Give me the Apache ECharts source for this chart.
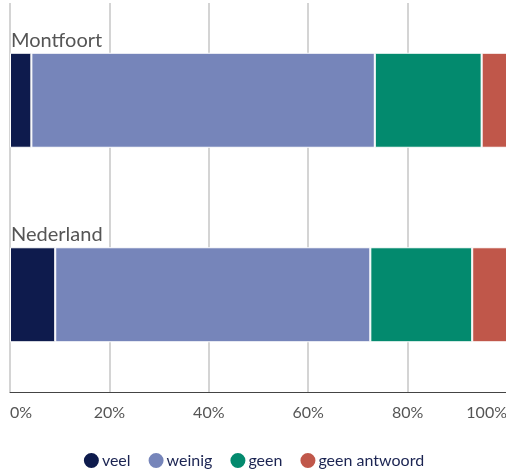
<!DOCTYPE html>
<html><head><meta charset="utf-8">
<script src="https://cdn.jsdelivr.net/npm/echarts@6/dist/echarts.min.js"></script>
<style>html,body{margin:0;padding:0;background:#fff}#c{width:506px;height:474px}</style>
</head><body><div id="c"></div>
<script>
const categories = ["Montfoort", "Nederland"];
const seriesNames = ["veel", "weinig", "geen", "geen antwoord"];
const veel = [4.3, 9.1];
const weinig = [69.1, 63.4];
const geen = [21.5, 20.5];
const geenAntwoord = [5.1, 7.0];
const tickLabels = ["0%", "20%", "40%", "60%", "80%", "100%"];
const colors = ["#0e1b4d", "#7685ba", "#038a6e", "#c0574a"];

const values = [veel, weinig, geen, geenAntwoord];
const font = "Lato, 'Noto Sans', sans-serif";
const chart = echarts.init(document.getElementById('c'));
chart.setOption({
  animation: false,
  textStyle: { fontFamily: font },
  grid: { left: 10, width: 497, top: 3, height: 389, containLabel: false, outerBoundsMode: 'none' },
  legend: {
    top: 446, left: 'center', itemWidth: 17, itemHeight: 17, itemGap: 16,
    icon: 'circle',
    textStyle: { fontSize: 16, color: '#1b2452', fontFamily: font, padding: [0, 0, 0, -3] },
    data: seriesNames
  },
  xAxis: {
    type: 'value', min: 0, max: 100, interval: 20,
    axisLine: { show: true, lineStyle: { color: '#444', width: 1 } },
    axisTick: { show: false },
    splitLine: { show: true, lineStyle: { color: '#d4d4d4', width: 2 } },
    axisLabel: {
      color: '#555', fontSize: 16, margin: 13,
      formatter: v => tickLabels[v / 20],
      alignMinLabel: 'left', alignMaxLabel: 'right'
    }
  },
  yAxis: {
    type: 'category', data: categories, inverse: true,
    axisLine: { show: false }, axisTick: { show: false },
    axisLabel: {
      inside: true, align: 'left', verticalAlign: 'bottom',
      color: '#555', fontSize: 20, padding: [0, 0, 50, 0], margin: 1
    }
  },
  series: seriesNames.map((n, i) => ({
    name: n, type: 'bar', stack: 'total', barWidth: 95,
    data: values[i],
    itemStyle: { color: colors[i], borderColor: '#fff', borderWidth: 1 },
    emphasis: { disabled: true }
  }))
});
</script></body></html>
